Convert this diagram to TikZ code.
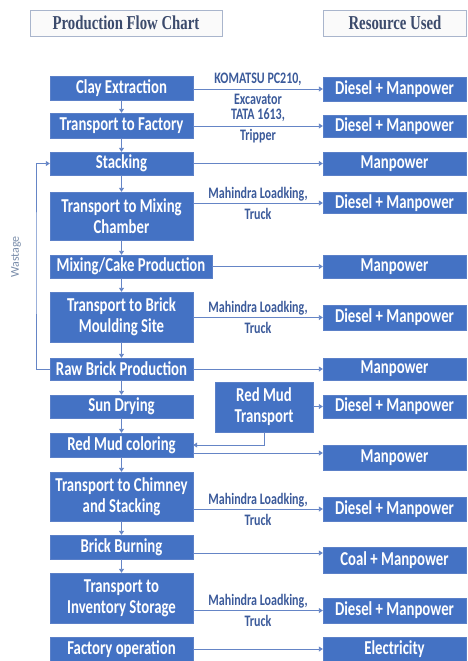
\documentclass[tikz,border=0pt]{standalone}
\usepackage{fontspec}
\setmainfont[FakeStretch=0.75]{Carlito}
\newfontfamily\headfont[FakeStretch=0.75]{Liberation Serif}
\newfontfamily\sidefont{Carlito}
\usepackage{xcolor}
\usepackage{tikz}
\usetikzlibrary{arrows.meta,positioning}

\definecolor{boxblue}{HTML}{4472C4}
\definecolor{boxedge}{HTML}{5B80C8}
\definecolor{flowblue}{HTML}{6585C6}
\definecolor{toolblue}{HTML}{3B5A9A}
\definecolor{headtext}{HTML}{3C4B6C}
\definecolor{headedge}{HTML}{A9B5CC}
\definecolor{wastegray}{HTML}{7A8DAA}

\begin{document}
\begin{tikzpicture}[
    x=1pt, y=-1pt,
    stage/.style={rectangle, draw=boxedge, fill=boxblue, text=white, minimum width=143pt, minimum height=24pt, inner sep=0pt, align=center, font=\fontsize{19.7}{21}\selectfont\bfseries},
    res/.style={rectangle, draw=boxedge, fill=boxblue, text=white, minimum width=143pt, minimum height=24pt, inner sep=0pt, align=center, font=\fontsize{19.7}{21}\selectfont\bfseries},
    head/.style={rectangle, draw=headedge, fill=gray!4, text=headtext, minimum height=26pt, inner sep=0pt, font=\headfont\fontsize{19.7}{21}\selectfont\bfseries},
    tool/.style={text=toolblue, align=center, inner sep=0pt, font=\fontsize{16}{21}\selectfont\bfseries},
    flow/.style={draw=flowblue, line width=0.9pt, -{Triangle[width=5pt,length=4pt]}}
]
\useasboundingbox (0,0) rectangle (467,661);

% Headings
\node[head, minimum width=192pt] (prodhead) at (126,23) {Production Flow Chart};
\node[head, minimum width=143pt] (reshead) at (395,23) {Resource Used};

% Production steps
\node[stage] (clay) at (121.5,88) {Clay Extraction};
\node[stage, minimum height=25pt] (factory) at (121.5,125.5) {Transport to Factory};
\node[stage, minimum height=23pt] (stack) at (121.5,163.5) {Stacking};
\node[stage, minimum height=48pt] (mixtr) at (121.5,216) {Transport to Mixing\\Chamber};
\node[stage, minimum width=162pt, minimum height=23pt] (cake) at (131,266.5) {Mixing/Cake Production};
\node[stage, minimum height=50pt] (mouldtr) at (121.5,317) {Transport to Brick\\Moulding Site};
\node[stage, minimum height=22pt] (raw) at (121.5,369) {Raw Brick Production};
\node[stage, minimum height=23pt] (sun) at (121.5,406.5) {Sun Drying};
\node[stage] (color) at (121.5,445) {Red Mud coloring};
\node[stage, minimum height=49pt] (chimtr) at (121.5,496.5) {Transport to Chimney\\and Stacking};
\node[stage] (burn) at (121.5,547) {Brick Burning};
\node[stage, minimum height=50pt] (invtr) at (121.5,598) {Transport to\\Inventory Storage};
\node[stage] (factop) at (121.5,649) {Factory operation};

% Red mud supply
\node[stage, minimum width=98pt, minimum height=50pt] (rmt) at (264,407) {Red Mud\\Transport};

% Resources
\node[res] (r1) at (394.5,89) {Diesel + Manpower};
\node[res, minimum height=22pt] (r2) at (394.5,126) {Diesel + Manpower};
\node[res, minimum height=23pt] (r3) at (394.5,163.5) {Manpower};
\node[res, minimum height=21pt] (r4) at (394.5,203) {Diesel + Manpower};
\node[res, minimum height=23pt] (r5) at (394.5,266.5) {Manpower};
\node[res, minimum height=25pt] (r6) at (394.5,317.5) {Diesel + Manpower};
\node[res, minimum height=22pt] (r7) at (394.5,369) {Manpower};
\node[res, minimum height=23pt] (r8) at (394.5,406.5) {Diesel + Manpower};
\node[res, minimum height=25pt] (r9) at (394.5,457.5) {Manpower};
\node[res] (r10) at (394.5,509) {Diesel + Manpower};
\node[res, minimum height=26pt] (r11) at (394.5,560) {Coal + Manpower};
\node[res, minimum height=25pt] (r12) at (394.5,610.5) {Diesel + Manpower};
\node[res] (r13) at (394.5,649) {Electricity};

% Wastage loop
\coordinate (waste) at (36,260);
\node[rotate=90, text=wastegray, font=\sidefont\fontsize{12}{14}\selectfont] (wastelabel) at (16,257) {Wastage};

% Arrows down the chain
\draw[flow] (clay) -- (factory);
\draw[flow] (factory) -- (stack);
\draw[flow] (stack) -- (mixtr);
\draw[flow] (mixtr.south) -- (mixtr.south |- cake.north);
\draw[flow] (cake.south -| mouldtr.north) -- (mouldtr.north);
\draw[flow] (mouldtr) -- (raw);
\draw[flow] (raw) -- (sun);
\draw[flow] (sun) -- (color);
\draw[flow] (color) -- (chimtr);
\draw[flow] (chimtr) -- (burn);
\draw[flow] (burn) -- (invtr);

% Arrows to resources
\draw[flow] (clay.east |- r1.west) -- node[tool] {KOMATSU PC210,\\Excavator} (r1.west);
\draw[flow] (factory.east |- r2.west) -- node[tool] {TATA 1613,\\Tripper} (r2.west);
\draw[flow] (stack.east |- r3.west) -- (r3.west);
\draw[flow] (mixtr.east |- r4.west) -- node[tool] {Mahindra Loadking,\\Truck} (r4.west);
\draw[flow] (cake.east |- r5.west) -- (r5.west);
\draw[flow] (mouldtr.east |- r6.west) -- node[tool] {Mahindra Loadking,\\Truck} (r6.west);
\draw[flow] (raw.east |- r7.west) -- (r7.west);
\draw[flow] (rmt.east |- r8.west) -- (r8.west);
\coordinate (colorout) at ([yshift=-8pt]color.east);
\draw[flow] (colorout) -- (colorout -| r9.west);
\draw[flow] (chimtr.east |- r10.west) -- node[tool] {Mahindra Loadking,\\Truck} (r10.west);
\coordinate (burnout) at ([yshift=-6pt]burn.east);
\draw[flow] (burnout) -- (burnout -| r11.west);
\draw[flow] (invtr.east |- r12.west) -- node[tool] {Mahindra Loadking,\\Truck} (r12.west);
\draw[flow] (factop.east |- r13.west) -- (r13.west);

% Red mud and wastage
\draw[flow] (rmt.south) |- (color.east);
\draw[flow] (raw.west) -| (waste) |- (stack.west);

\end{tikzpicture}
\end{document}
